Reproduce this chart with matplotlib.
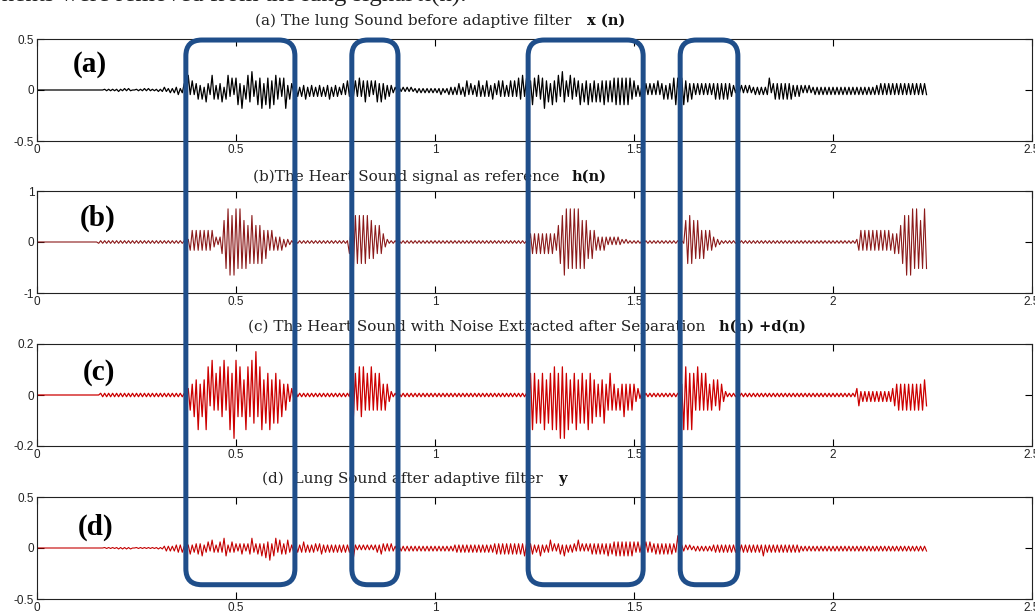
import numpy as np
import matplotlib.pyplot as plt
import matplotlib.transforms as mtransforms
from matplotlib.patches import FancyBboxPatch

plt.rcParams['axes.unicode_minus'] = False

# ---------------------------------------------------------------------------
# 1. DATOS
# cada caracter = nivel del pico de medio ciclo (5 ms), el signo alterna
# ---------------------------------------------------------------------------
dt = 0.005
niveles = [0, 0.04, 0.08, 0.15, 0.25, 0.35, 0.5, 0.65, 0.8, 1.0]

# (a) sonido pulmonar x(n)
senal_x = [
    "0000000000", "0000000000", "0000000000", "0000111111", "1211212100",
    "1111212111", "1212322323", "3423578464", "5646375486", "4657368574",
    "7859468795", "6879587968", "8675794653", "4535463545", "3545354635",
    "4534546565", "6575676564", "6757564543", "3232323232", "2323232323",
    "2324232434", "3454356454", "4565456546", "5465654565", "6576857668",
    "7586796758", "6785976586", "7568576857", "6757686767", "7878787876",
    "6545465454", "5464564656", "7878786756", "5454545454", "5656565655",
    "4343434343", "3434343473", "5656565656", "4545434343", "3434343434",
    "3434343434", "3434343434", "3444545454", "5454545454", "54545454",
]

# (b) sonido cardiaco de referencia h(n)
senal_h = [
    "0000000000", "0000000000", "0000000000", "0111111111", "1111111111",
    "1111111111", "1111111111", "1111112454", "5454545453", "3235789989",
    "9898786787", "6767565454", "3434232211", "1111111111", "1111111111",
    "1111111578", "8787878676", "6565432111", "1111111111", "1111111111",
    "1111111111", "1111111111", "1111111111", "1111111111", "1111111145",
    "4545454545", "4467899898", "9898787656", "5434343232", "3232212111",
    "1111111111", "1111111111", "1111117787", "7676565454", "3322111111",
    "1111111111", "1111111111", "1111111111", "1111111111", "1111111111",
    "1111111111", "1124545454", "5454545454", "4545678989", "98987898",
]

# (c) sonido cardiaco con ruido h(n) + d(n)
senal_hd = [
    "0000000000", "0000000000", "0000000000", "0011111111", "1111111111",
    "1111111111", "1111111111", "1111113546", "5846587485", "6576857869",
    "8676587687", "9678576857", "6756454332", "2111111111", "1111111111",
    "1111111146", "6576756575", "6565454321", "1111111111", "1111111111",
    "1111111111", "1111111111", "1111111111", "1111111111", "1111111568",
    "6757685768", "7869796857", "6857675867", "5646574565", "4535464545",
    "4332211111", "1111111111", "1111487868", "6575656545", "5455432111",
    "1111111111", "1111111111", "1111111111", "1111111111", "1111111111",
    "1111111111", "1134232323", "2323232323", "3445454545", "45454554",
]

# (d) sonido pulmonar despues del filtro y
senal_y = [
    "0000000000", "0000000000", "0000000000", "0000111111", "1212121200",
    "1111111111", "1212343434", "4545354645", "5657456475", "4565874565",
    "5456545685", "5657586957", "8576567545", "4545654545", "5456454545",
    "4545454548", "4343434343", "4546545454", "3434343434", "3434343434",
    "3434343434", "4545454545", "4545454545", "5656565656", "5656575656",
    "4547454574", "5456474545", "5474545456", "5656565756", "6767676767",
    "6565656565", "5656565656", "5598444343", "3434343434", "4545454545",
    "4545454545", "4545474545", "4545454545", "4545343434", "3434343434",
    "3434343434", "3434343434", "3434343434", "3434343434", "34343434",
]

senales = [senal_x, senal_h, senal_hd, senal_y]
picos = [0.18, 0.65, 0.17, 0.12]
colores = ['black', '#8b1a1a', '#cc0000', '#c40000']
grosor = [0.9, 0.8, 0.9, 0.8]

titulos = ['(a) The lung Sound before adaptive filter',
           '(b)The Heart Sound signal as reference',
           '(c) The Heart Sound with Noise Extracted after Separation',
           '(d)  Lung Sound after adaptive filter']
titulos_negrita = ['x (n)', 'h(n)', 'h(n) +d(n)', 'y']
etiquetas = ['(a)', '(b)', '(c)', '(d)']

limites_y = [0.5, 1, 0.2, 0.5]
ticks_y = [[-0.5, 0, 0.5], [-1, 0, 1], [-0.2, 0, 0.2], [-0.5, 0, 0.5]]
etiq_y = [['-0.5', '0', '0.5'], ['-1', '0', '1'], ['-0.2', '0', '0.2'], ['-0.5', '0', '0.5']]
ticks_x = [0, 0.5, 1, 1.5, 2, 2.5]
etiq_x = ['0', '0.5', '1', '1.5', '2', '2.5']

# tramos marcados con rectangulos (segundos)
zonas = [(0.374, 0.648), (0.791, 0.907), (1.234, 1.523), (1.616, 1.761)]


def decodificar(bloques, pico):
    s = ''.join(bloques)
    amp = np.array([niveles[int(c)] for c in s]) * pico
    signo = np.where(np.arange(len(s)) % 2 == 0, 1, -1)
    t = np.arange(len(s)) * dt
    return t, amp * signo


# ---------------------------------------------------------------------------
# 2. FIGURA
# ---------------------------------------------------------------------------
W, H = 1035, 614
fig = plt.figure(figsize=(W / 100, H / 100), dpi=100)
fig.patch.set_facecolor('white')

tops_px = [39, 191, 344, 497]
titulo_y = [21, 177, 327, 479]
titulo_x = [255, 253, 248, 262]
negrita_x = [587, 572, 719, 558]
etiqueta_pos = [(73, 64), (80, 218), (83, 372), (78, 527)]

ejes = []
for i in range(4):
    bottom = 1 - (tops_px[i] + 102) / H
    ax = fig.add_axes([37 / W, bottom, 995 / W, 102 / H])
    t, y = decodificar(senales[i], picos[i])
    ax.plot(t, y, color=colores[i], lw=grosor[i])
    ax.set_xlim(0, 2.5)
    ax.set_ylim(-limites_y[i], limites_y[i])
    ax.set_xticks(ticks_x)
    ax.set_xticklabels(etiq_x)
    ax.set_yticks(ticks_y[i])
    ax.set_yticklabels(etiq_y[i])
    ax.tick_params(direction='in', top=True, right=True, length=5, width=0.8,
                   labelsize=8.5, labelcolor='#222222', pad=2)
    for lado in ax.spines.values():
        lado.set_linewidth(0.8)
        lado.set_color('#222222')
    for lab in ax.get_xticklabels() + ax.get_yticklabels():
        lab.set_family(['Liberation Sans', 'DejaVu Sans'])
    ejes.append(ax)

    # titulos (parte normal + parte en negrita)
    fig.text(titulo_x[i] / W, 1 - titulo_y[i] / H, titulos[i], family='DejaVu Serif',
             fontsize=11, va='center', ha='left', color='#222222')
    fig.text(negrita_x[i] / W, 1 - titulo_y[i] / H, titulos_negrita[i], family='DejaVu Serif',
             fontsize=10.5, fontweight='bold', va='center', ha='left', color='#111111')
    fig.text(etiqueta_pos[i][0] / W, 1 - etiqueta_pos[i][1] / H, etiquetas[i],
             family='Liberation Serif', fontsize=21, fontweight='bold', va='center', ha='left')

# texto cortado en el borde superior
fig.text(467 / W, 1 - 2 / H, 'ss components were removed from the lung signal x(n).',
         family='Liberation Serif', fontsize=18, va='baseline', ha='right', color='#222222')

# ---------------------------------------------------------------------------
# 3. RECTANGULOS REDONDEADOS (en pixeles de pantalla)
# ---------------------------------------------------------------------------
for z0, z1 in zonas:
    x0, y_top = ejes[0].transData.transform((z0, 0.49))
    x1, y_bot = ejes[3].transData.transform((z1, -0.36))
    caja = FancyBboxPatch((x0, y_bot), x1 - x0, y_top - y_bot,
                          boxstyle='round,pad=0,rounding_size=16',
                          facecolor='none', edgecolor='#1f4e8a', linewidth=3.6,
                          transform=mtransforms.IdentityTransform(), zorder=10)
    fig.add_artist(caja)

fig.savefig('out.png', dpi=100)
